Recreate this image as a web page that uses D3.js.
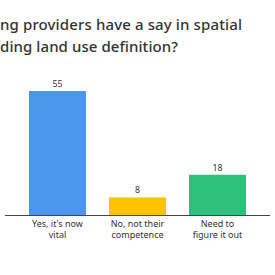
<!DOCTYPE html>
<html>
<head>
	<meta charset="utf-8">
	<script src="https://cdn.jsdelivr.net/npm/d3@7"></script>
	<style>
		body { margin: 0; background: #fff; }
		text { font-family: "Noto Sans", sans-serif; }
	</style>
</head>
<body>
<div id="content"></div>

<script type="text/javascript">
	var categories = [["Yes, it's now", "vital"], ["No, not their", "competence"], ["Need to", "figure it out"]];
	var values = [55, 8, 18];
	var colors = ["#4c97ee", "#ffc300", "#2cc27c"];
	// the title is cut off at the left edge in the original image
	var titleHidden = ["Should mappi", "planning, inclu"];
	var titleVisible = ["ng providers have a say in spatial", "ding land use definition?"];

	var W = 275, H = 275;
	var baseY = 215.5;

	var svg = d3.select('#content')
		.append('svg')
		.attr('width', W)
		.attr('height', H);

	var titleEnds = [242, 178];
	titleVisible.forEach(function (line, i) {
		var ty = 30 + i * 21.5;
		svg.append('text')
			.attr('x', -1)
			.attr('y', ty)
			.attr('text-anchor', 'end')
			.attr('font-size', 15)
			.attr('font-weight', 500)
			.attr('fill', '#333')
			.text(titleHidden[i]);
		svg.append('text')
			.attr('x', 0)
			.attr('y', ty)
			.attr('font-size', 15)
			.attr('font-weight', 500)
			.attr('fill', '#333')
			.attr('textLength', titleEnds[i])
			.attr('lengthAdjust', 'spacing')
			.text(line);
	});

	var x = d3.scaleBand()
		.domain(d3.range(values.length))
		.range([17.5, 257.5])
		.paddingInner(0.2875)
		.paddingOuter(0.14375);

	var y = d3.scaleLinear()
		.domain([0, 55])
		.range([baseY, 91]);

	svg.selectAll('rect.bar')
		.data(values)
		.enter()
		.append('rect')
		.attr('class', 'bar')
		.attr('x', (d, i) => x(i))
		.attr('y', d => y(d))
		.attr('width', x.bandwidth())
		.attr('height', d => baseY - y(d))
		.attr('fill', (d, i) => colors[i]);

	svg.selectAll('text.val')
		.data(values)
		.enter()
		.append('text')
		.attr('class', 'val')
		.attr('x', (d, i) => x(i) + x.bandwidth() / 2)
		.attr('y', d => y(d) - 4)
		.attr('text-anchor', 'middle')
		.attr('font-size', 8.8)
		.attr('fill', '#333')
		.text(d => d);

	// baseline
	svg.append('line')
		.attr('x1', 5)
		.attr('x2', 270)
		.attr('y1', baseY)
		.attr('y2', baseY)
		.attr('stroke', '#444')
		.attr('stroke-width', 1);

	var labels = svg.selectAll('text.cat')
		.data(categories)
		.enter()
		.append('text')
		.attr('class', 'cat')
		.attr('text-anchor', 'middle')
		.attr('font-size', 9)
		.attr('fill', '#333');

	labels.selectAll('tspan')
		.data((d, i) => d.map(s => ({ s: s, i: i })))
		.enter()
		.append('tspan')
		.attr('x', d => x(d.i) + x.bandwidth() / 2)
		.attr('y', (d, j) => 227 + j * 10.5)
		.text(d => d.s);
</script>
</body>
</html>
